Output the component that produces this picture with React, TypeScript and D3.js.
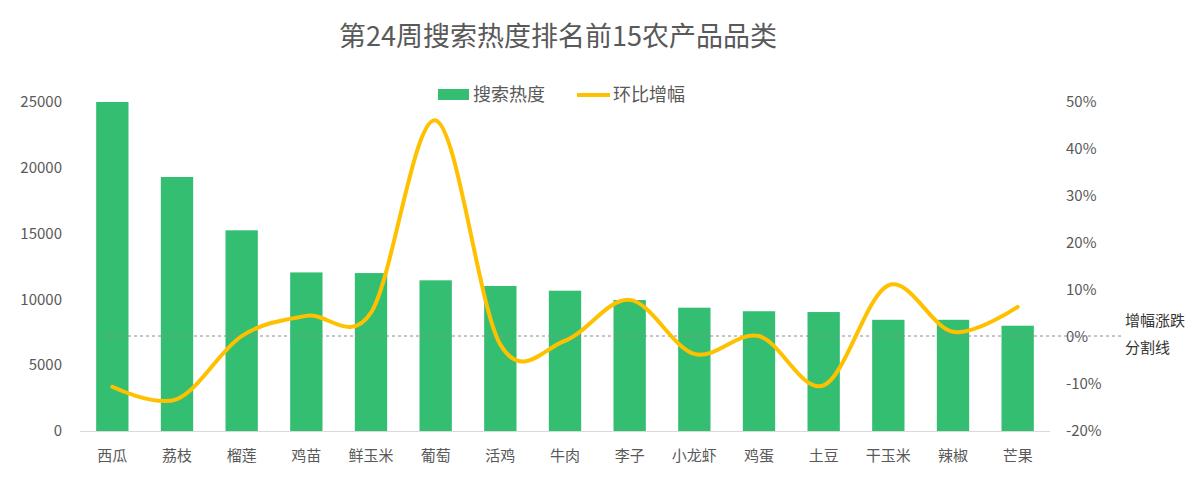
import React from "react";
import * as d3 from "d3";

const categories = ["西瓜", "荔枝", "榴莲", "鸡苗", "鲜玉米", "葡萄", "活鸡", "牛肉", "李子", "小龙虾", "鸡蛋", "土豆", "干玉米", "辣椒", "芒果"];
const searchHeat = [25000, 19300, 15250, 12050, 12000, 11450, 11020, 10660, 9950, 9370, 9100, 9040, 8450, 8450, 8000];
const momChange = [-10.6, -13.2, 0.2, 4.5, 5.2, 46.1, -1.6, -0.8, 7.9, -3.6, 0.2, -10.3, 11.0, 1.1, 6.4];
const leftTicks = [0, 5000, 10000, 15000, 20000, 25000];
const rightTicks = [-20, -10, 0, 10, 20, 30, 40, 50];

const W = 1200;
const H = 488;
const FONT = "'Noto Sans CJK SC', 'Noto Sans', sans-serif";
const GREEN = "#33BE72";
const GOLD = "#FFC000";
const TEXT = "#595959";

export default function App() {
  const x = d3.scaleBand<string>().domain(categories).range([80, 1050]).paddingInner(0.5).paddingOuter(0.25);
  const yL = d3.scaleLinear().domain([0, 25000]).range([431, 102]);
  const yR = d3.scaleLinear().domain([-20, 50]).range([431, 102]);
  const line = d3
    .line<number>()
    .x((_, i) => (x(categories[i]) as number) + x.bandwidth() / 2)
    .y((d) => yR(d))
    .curve(d3.curveCardinal.tension(0));

  return (
    <div style={{ margin: -8 }}>
      <svg width={W} height={H} style={{ display: "block", fontFamily: FONT }}>
        <rect width={W} height={H} fill="#fff" />
        <text x={558} y={46} textAnchor="middle" fontSize={27} fill={TEXT}>
          第24周搜索热度排名前15农产品品类
        </text>
        {/* legend */}
        <rect x={438} y={89} width={31} height={11} fill={GREEN} />
        <text x={473} y={101} fontSize={18} fill={TEXT}>搜索热度</text>
        <line x1={577} x2={610} y1={95} y2={95} stroke={GOLD} strokeWidth={4} />
        <text x={613} y={101} fontSize={18} fill={TEXT}>环比增幅</text>

        {/* left axis labels */}
        {leftTicks.map((t) => (
          <text key={t} x={62} y={yL(t)} dy="0.35em" textAnchor="end" fontSize={15} fill={TEXT}>
            {t}
          </text>
        ))}
        {/* right axis labels */}
        {rightTicks.map((t) => (
          <text key={t} x={1066} y={yR(t)} dy="0.35em" fontSize={15} fill={TEXT}>
            {t}%
          </text>
        ))}

        {/* bars */}
        {categories.map((c, i) => (
          <rect key={c} x={x(c)} y={yL(searchHeat[i])} width={x.bandwidth()} height={yL(0) - yL(searchHeat[i])} fill={GREEN} />
        ))}

        {/* axis line */}
        <line x1={80} x2={1050} y1={yL(0) + 0.5} y2={yL(0) + 0.5} stroke="#D9D9D9" strokeWidth={1} />

        {/* x labels */}
        {categories.map((c) => (
          <text key={c} x={(x(c) as number) + x.bandwidth() / 2} y={461} textAnchor="middle" fontSize={15} fill={TEXT}>
            {c}
          </text>
        ))}

        {/* zero divider */}
        <line x1={104} x2={1122} y1={yR(0) - 1} y2={yR(0) - 1} stroke="#8C8C8C" strokeWidth={1} strokeDasharray="3,3" />
        <text x={1125} y={326} fontSize={15} fill="#333">增幅涨跌</text>
        <text x={1125} y={353} fontSize={15} fill="#333">分割线</text>

        {/* line */}
        <path d={line(momChange) || ""} fill="none" stroke={GOLD} strokeWidth={4} strokeLinecap="round" />
      </svg>
    </div>
  );
}
